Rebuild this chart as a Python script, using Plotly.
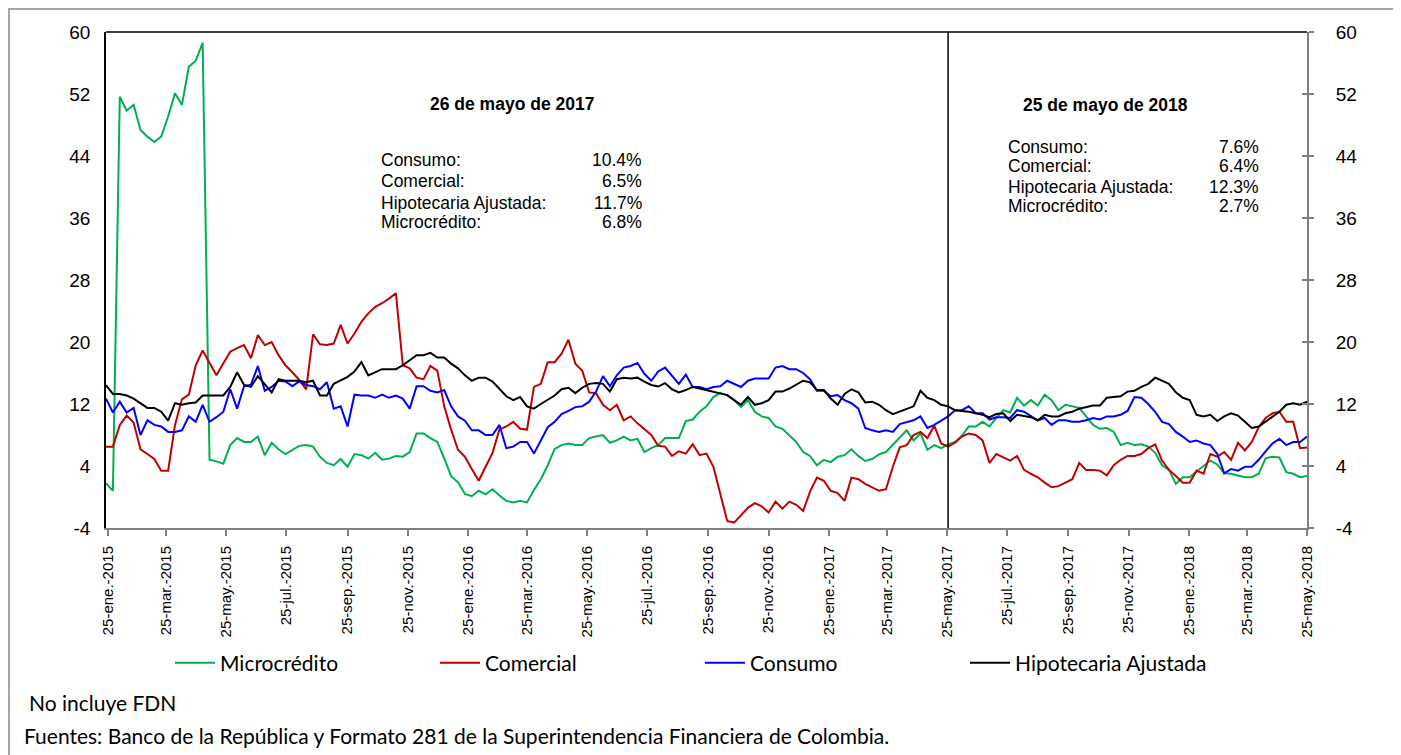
import pandas as pd
import plotly.graph_objects as go

# ---------------- data (weekly, 23-ene-2015 .. 25-may-2018) ----------------
start_date = "2015-01-23"
n_weeks = 175

microcredito = [
    1.8, 0.8, 51.65, 49.85, 50.6, 47.35, 46.5, 45.8, 46.5, 49.1,
    52.1, 50.6, 55.5, 56.3, 58.6, 4.8, 4.6, 4.3, 6.7, 7.6,
    7.1, 7.1, 7.8, 5.4, 7.0, 6.15, 5.55, 6.1, 6.6, 6.7,
    6.5, 5.2, 4.4, 4.1, 4.9, 3.9, 5.55, 5.4, 4.95, 5.7,
    4.8, 4.95, 5.3, 5.2, 5.8, 8.2, 8.2, 7.6, 7.1, 5.0,
    2.7, 1.9, 0.4, 0.1, 0.8, 0.35, 1.0, 0.2, -0.5, -0.7,
    -0.5, -0.7, 0.9, 2.3, 4.1, 6.2, 6.7, 6.9, 6.7, 6.7,
    7.6, 7.8, 8.0, 7.0, 7.3, 7.8, 7.3, 7.5, 5.8, 6.3,
    6.7, 7.6, 7.6, 7.6, 9.8, 10.0, 11.0, 11.7, 12.9, 13.4,
    13.15, 12.5, 11.6, 12.5, 11.0, 10.4, 10.2, 9.1, 8.8, 8.0,
    7.1, 5.8, 5.3, 4.1, 4.8, 4.5, 5.2, 5.4, 6.15, 5.3,
    4.65, 4.9, 5.5, 5.8, 6.7, 7.6, 8.6, 7.3, 8.2, 6.1,
    6.7, 6.3, 6.8, 7.1, 7.9, 9.1, 9.1, 9.7, 9.1, 10.2,
    11.2, 10.9, 12.8, 11.8, 12.5, 11.8, 13.2, 12.5, 11.2, 11.9,
    11.7, 11.5, 10.4, 9.3, 8.8, 8.9, 8.4, 6.7, 7.0, 6.7,
    6.8, 6.5, 5.7, 4.1, 3.5, 1.7, 2.55, 2.55, 3.3, 4.0,
    4.7, 4.2, 3.05, 3.0, 2.8, 2.55, 2.55, 3.0, 5.0, 5.2,
    5.1, 3.2, 3.0, 2.55, 2.7,
]

comercial = [
    6.5, 6.5, 9.3, 10.5, 9.6, 6.15, 5.55, 4.9, 3.4, 3.4,
    9.3, 12.6, 13.2, 17.0, 18.9, 17.25, 15.7, 17.25, 18.75, 19.2,
    19.6, 17.9, 20.9, 19.6, 20.0, 18.3, 17.0, 16.1, 15.1, 13.9,
    21.0, 19.7, 19.6, 19.8, 22.2, 19.8, 21.1, 22.6, 23.7, 24.55,
    25.0, 25.6, 26.3, 17.0, 16.6, 15.4, 15.2, 16.9, 16.3, 11.7,
    8.7, 6.1, 5.2, 3.6, 2.1, 3.9, 5.7, 8.7, 9.1, 9.7,
    8.8, 8.7, 14.2, 14.6, 17.4, 17.4, 18.5, 20.3, 17.2, 16.3,
    13.5, 13.4, 11.9, 11.2, 11.9, 9.9, 10.4, 9.5, 8.8, 8.0,
    6.6, 6.5, 5.3, 5.9, 5.6, 6.8, 5.4, 5.6, 3.9, 0.5,
    -3.1, -3.3, -2.3, -1.4, -0.8, -1.2, -2.0, -0.6, -1.5, -0.6,
    -1.0, -1.8, 0.7, 2.5, 2.1, 0.8, 0.5, -0.5, 2.5, 2.3,
    1.7, 1.25, 0.8, 1.0, 3.9, 6.4, 6.7, 8.0, 8.4, 7.6,
    9.2, 6.9, 6.5, 7.0, 7.8, 8.2, 8.0, 7.3, 4.4, 5.55,
    5.1, 4.7, 5.3, 3.5, 3.0, 2.55, 1.85, 1.25, 1.4, 1.85,
    2.3, 4.4, 3.5, 3.5, 3.4, 2.8, 4.1, 4.8, 5.3, 5.3,
    5.55, 6.3, 6.8, 4.7, 3.5, 2.7, 1.85, 1.85, 3.4, 3.0,
    5.55, 5.2, 5.8, 4.8, 7.0, 6.0, 7.1, 9.0, 10.2, 10.8,
    11.0, 9.7, 9.7, 6.3, 6.4,
]

consumo = [
    12.7, 10.9, 12.3, 10.9, 11.5, 8.0, 9.9, 9.3, 9.1, 8.4,
    8.4, 8.6, 10.4, 9.7, 11.9, 9.7, 10.3, 11.0, 13.9, 11.4,
    14.3, 14.5, 16.9, 13.7, 14.2, 15.0, 14.9, 14.3, 14.9, 14.45,
    14.3, 13.9, 14.8, 11.4, 11.7, 9.1, 13.2, 13.1, 13.1, 12.8,
    13.2, 12.8, 13.1, 12.7, 11.4, 14.3, 14.3, 13.7, 13.5, 13.8,
    11.7, 10.4, 9.85, 8.6, 8.6, 8.0, 8.0, 9.3, 6.3, 6.5,
    7.1, 7.1, 5.6, 7.4, 9.0, 9.7, 10.7, 11.1, 11.6, 11.7,
    12.3, 13.6, 15.6, 14.3, 15.7, 16.7, 16.9, 17.3, 15.9, 15.0,
    16.2, 16.7, 15.7, 14.6, 15.8, 14.2, 14.2, 13.9, 14.2, 14.3,
    15.0, 14.6, 14.2, 15.0, 15.3, 15.3, 15.3, 16.7, 16.9, 16.5,
    16.5, 16.0, 15.2, 13.7, 13.7, 13.0, 13.15, 12.5, 12.1, 11.4,
    8.9, 8.6, 8.4, 8.6, 8.4, 9.4, 9.7, 9.9, 10.4, 8.9,
    9.3, 9.9, 10.4, 11.2, 11.2, 11.7, 10.8, 10.8, 10.0, 10.3,
    10.3, 10.2, 11.2, 11.0, 10.4, 9.9, 10.2, 9.3, 9.9, 9.9,
    9.7, 9.7, 9.9, 10.2, 10.0, 10.4, 10.4, 10.6, 11.1, 12.9,
    12.8, 12.0, 11.0, 9.7, 9.4, 8.4, 7.8, 7.1, 7.3, 6.9,
    6.7, 5.55, 3.05, 3.6, 3.4, 3.9, 3.9, 4.8, 5.9, 6.9,
    7.5, 6.7, 7.1, 7.1, 7.8,
]

hipotecaria = [
    14.45, 13.3, 13.3, 13.1, 12.7, 12.1, 11.5, 11.5, 11.0, 9.85,
    12.1, 11.9, 12.1, 12.2, 13.1, 13.1, 13.1, 13.1, 14.2, 16.1,
    14.45, 14.2, 15.6, 14.6, 13.5, 15.2, 15.0, 15.0, 15.0, 14.8,
    15.0, 13.1, 13.1, 14.6, 15.0, 15.5, 16.2, 17.4, 15.7, 16.1,
    16.5, 16.5, 16.5, 17.0, 17.7, 18.3, 18.3, 18.6, 18.0, 18.0,
    17.2, 16.6, 15.7, 15.0, 15.4, 15.4, 14.9, 13.9, 13.0, 12.5,
    12.9, 11.7, 11.4, 12.0, 12.5, 13.1, 13.9, 14.1, 13.4, 14.1,
    14.6, 14.7, 14.6, 13.6, 15.2, 15.4, 15.3, 15.4, 14.9, 14.45,
    14.25, 14.7, 13.9, 13.5, 13.8, 14.2, 14.0, 13.8, 13.6, 13.4,
    13.15, 12.5, 11.9, 12.9, 11.9, 12.1, 12.5, 13.6, 13.6, 14.0,
    14.45, 15.0, 14.8, 13.8, 13.8, 12.7, 11.9, 13.3, 13.9, 13.5,
    12.2, 12.3, 11.9, 11.2, 10.7, 11.0, 11.4, 11.7, 13.7, 12.8,
    12.5, 11.9, 11.7, 11.2, 11.1, 11.0, 10.8, 10.6, 10.3, 10.7,
    10.8, 9.8, 10.6, 10.4, 10.3, 9.9, 10.6, 10.4, 10.4, 10.8,
    11.0, 11.4, 11.65, 11.8, 11.8, 12.8, 12.9, 13.0, 13.6, 13.7,
    14.2, 14.6, 15.4, 15.0, 14.6, 13.5, 12.8, 12.5, 10.6, 10.4,
    10.6, 9.8, 10.4, 10.8, 10.5, 9.7, 8.9, 9.1, 9.7, 10.4,
    11.0, 11.9, 12.1, 11.9, 12.3,
]

tick_dates = [
    "2015-01-25", "2015-03-25", "2015-05-25", "2015-07-25", "2015-09-25", "2015-11-25",
    "2016-01-25", "2016-03-25", "2016-05-25", "2016-07-25", "2016-09-25", "2016-11-25",
    "2017-01-25", "2017-03-25", "2017-05-25", "2017-07-25", "2017-09-25", "2017-11-25",
    "2018-01-25", "2018-03-25", "2018-05-25",
]
tick_labels = [
    "25-ene.-2015", "25-mar.-2015", "25-may.-2015", "25-jul.-2015", "25-sep.-2015", "25-nov.-2015",
    "25-ene.-2016", "25-mar.-2016", "25-may.-2016", "25-jul.-2016", "25-sep.-2016", "25-nov.-2016",
    "25-ene.-2017", "25-mar.-2017", "25-may.-2017", "25-jul.-2017", "25-sep.-2017", "25-nov.-2017",
    "25-ene.-2018", "25-mar.-2018", "25-may.-2018",
]
y_ticks = [-4, 4, 12, 20, 28, 36, 44, 52, 60]
y_tick_labels = ["-4", "4", "12", "20", "28", "36", "44", "52", "60"]

marker_date = "2017-05-26"

box1_title = "26 de mayo de 2017"
box1_names = ["Consumo:", "Comercial:", "Hipotecaria Ajustada:", "Microcrédito:"]
box1_values = ["10.4%", "6.5%", "11.7%", "6.8%"]
box2_title = "25 de mayo de 2018"
box2_names = ["Consumo:", "Comercial:", "Hipotecaria Ajustada:", "Microcrédito:"]
box2_values = ["7.6%", "6.4%", "12.3%", "2.7%"]

note1 = "No incluye FDN"
note2 = "Fuentes: Banco de la República y Formato 281 de la Superintendencia Financiera de Colombia."

# ---------------- figure ----------------
dates = pd.date_range(start_date, periods=n_weeks, freq="7D")

series = [
    ("Microcrédito", microcredito, "#00B050"),
    ("Comercial", comercial, "#C00000"),
    ("Consumo", consumo, "#0000FF"),
    ("Hipotecaria Ajustada", hipotecaria, "#000000"),
]

fig = go.Figure()
for name, vals, color in series:
    fig.add_trace(go.Scatter(
        x=dates, y=vals, name=name, mode="lines",
        line=dict(color=color, width=2), hoverinfo="x+y+name",
    ))

# invisible traces to carry the right-hand axes
fig.add_trace(go.Scatter(x=[dates[0]], y=[None], yaxis="y2", showlegend=False, hoverinfo="skip"))
fig.add_trace(go.Scatter(x=[dates[0]], y=[None], yaxis="y3", showlegend=False, hoverinfo="skip"))

# the page body adds an 8px offset; the plot area sits at page x 106..1307, y 32..528
PAGE_OFF = 8
W, H = 1401 - PAGE_OFF, 755 - PAGE_OFF
PL, PT, PR, PB = 106, 32, 1307, 528          # plot area in page pixels
L, T = PL - PAGE_OFF, PT - PAGE_OFF
pw, ph = PR - PL, PB - PT
R, B = W - L - pw, H - T - ph


def px(xp):
    return (xp - PL) / pw


def py(yp):
    return (PB - yp) / ph


label_font = dict(family="Liberation Sans, Arial, sans-serif", size=19, color="#000000")

fig.update_layout(
    width=W, height=H,
    margin=dict(l=L, r=R, t=T, b=B, autoexpand=False),
    paper_bgcolor="#FFFFFF", plot_bgcolor="#FFFFFF",
    showlegend=True,
    legend=dict(
        orientation="h", x=px(170), y=py(663), xanchor="left", yanchor="middle",
        font=dict(family="Lato, Carlito, sans-serif", size=21, color="#000000"),
        entrywidth=210, entrywidthmode="pixels", itemwidth=40,
        bgcolor="rgba(0,0,0,0)", traceorder="normal",
    ),
    xaxis=dict(
        type="date", range=[dates[0], dates[-1]],
        tickmode="array", tickvals=tick_dates, ticktext=tick_labels,
        tickangle=-90, tickfont=dict(family="Liberation Sans, Arial, sans-serif", size=15, color="#000000"),
        ticks="outside", ticklen=6, tickcolor="#808080", tickwidth=1.5,
        showline=True, linecolor="#808080", linewidth=2,
        showgrid=False, zeroline=False, ticklabelstandoff=4,
    ),
    yaxis=dict(
        range=[-4, 60], tickmode="array", tickvals=y_ticks, ticktext=y_tick_labels,
        tickfont=label_font, showgrid=False, zeroline=False,
        showline=True, linecolor="#000000", linewidth=1.5,
        ticks="", ticklabelstandoff=10,
    ),
    yaxis2=dict(
        range=[-4, 60], tickmode="array", tickvals=y_ticks, ticktext=y_tick_labels,
        tickfont=label_font, showgrid=False, zeroline=False,
        overlaying="y", side="right", anchor="x",
        showline=True, linecolor="#808080", linewidth=2,
        ticks="outside", ticklen=5, tickcolor="#808080", tickwidth=1.5,
        ticklabelstandoff=18,
    ),
    yaxis3=dict(
        range=[-4, 60], tickmode="array", tickvals=y_ticks,
        showticklabels=False, showgrid=False, zeroline=False,
        overlaying="y", side="right", anchor="x",
        showline=False, ticks="inside", ticklen=5, tickcolor="#808080", tickwidth=1.5,
    ),
)

shapes = [
    # outer chart frame
    dict(type="rect", xref="paper", yref="paper",
         x0=px(9), x1=px(1397), y0=py(770), y1=py(9),
         line=dict(color="#A6A6A6", width=2), fillcolor="rgba(0,0,0,0)", layer="below"),
    # top border of plot area
    dict(type="line", xref="paper", yref="paper", x0=0, x1=1, y0=1, y1=1,
         line=dict(color="#000000", width=1.5)),
    # marker line 26-may-2017
    dict(type="line", xref="x", yref="paper", x0=marker_date, x1=marker_date, y0=0, y1=1,
         line=dict(color="#000000", width=1.5)),
]
fig.update_layout(shapes=shapes)

ann_font = dict(family="Liberation Sans, Arial, sans-serif", size=17.5, color="#000000")
bold_font = dict(family="Liberation Sans, Arial, sans-serif", size=17.5, color="#000000")
annotations = []


def add_box(title, names, values, title_x, title_y, left_x, right_x, rows_y):
    annotations.append(dict(text="<b>" + title + "</b>", x=px(title_x), y=py(title_y),
                            xref="paper", yref="paper", xanchor="center", yanchor="middle",
                            showarrow=False, font=bold_font))
    for nm, val, yy in zip(names, values, rows_y):
        annotations.append(dict(text=nm, x=px(left_x), y=py(yy), xref="paper", yref="paper",
                                xanchor="left", yanchor="middle", showarrow=False, font=ann_font))
        annotations.append(dict(text=val, x=px(right_x), y=py(yy), xref="paper", yref="paper",
                                xanchor="right", yanchor="middle", showarrow=False, font=ann_font))


add_box(box1_title, box1_names, box1_values, 512, 104, 379, 644, [160, 180.5, 203, 222.5])
add_box(box2_title, box2_names, box2_values, 1105, 105, 1006, 1261, [146.5, 166, 186.5, 206])

note_font = dict(family="Lato, Carlito, sans-serif", size=21, color="#000000")
annotations.append(dict(text=note1, x=px(27), y=py(702), xref="paper", yref="paper",
                        xanchor="left", yanchor="middle", showarrow=False, font=note_font))
annotations.append(dict(text=note2, x=px(22), y=py(735), xref="paper", yref="paper",
                        xanchor="left", yanchor="middle", showarrow=False, font=note_font))
fig.update_layout(annotations=annotations)

fig.write_html("out.html")
